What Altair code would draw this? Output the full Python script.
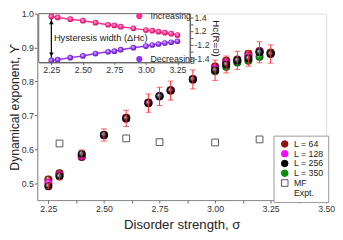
import altair as alt
import pandas as pd

# ---------------- data ----------------
sigma = [2.25, 2.30, 2.40, 2.50, 2.60, 2.70, 2.75, 2.80, 2.90, 3.00, 3.05, 3.10, 3.15, 3.20, 3.25]
ups_L64 = [0.511, 0.529, 0.577, 0.642, 0.693, 0.738, 0.757, 0.774, 0.807, 0.844, 0.861, 0.865, 0.882, 0.890, 0.885]
ups_L128 = [0.500, 0.524, 0.581, 0.641, 0.691, 0.737, 0.756, 0.773, 0.806, 0.838, 0.855, 0.860, 0.875, 0.887, 0.883]
ups_L256 = [0.491, 0.520, 0.586, 0.642, 0.691, 0.736, 0.756, 0.773, 0.806, 0.833, 0.850, 0.862, 0.868, 0.886, 0.881]
err_L256 = [0.008, 0.010, 0.012, 0.018, 0.024, 0.027, 0.027, 0.028, 0.028, 0.030, 0.025, 0.027, 0.023, 0.031, 0.027]
sigma_L350 = [3.00, 3.05, 3.10, 3.15, 3.20, 3.25]
ups_L350 = [0.830, 0.843, 0.856, 0.861, 0.873, 0.884]
mf_sigma = [2.30, 2.60, 2.75, 3.00, 3.20]
mf_ups = [0.617, 0.632, 0.621, 0.620, 0.629]

inc_hc = [1.410, 1.396, 1.371, 1.349, 1.320, 1.291, 1.281, 1.263, 1.239, 1.214, 1.206, 1.191, 1.177, 1.163, 1.143]
dec_hc = [-1.421, -1.410, -1.381, -1.356, -1.322, -1.297, -1.288, -1.267, -1.238, -1.215, -1.200, -1.185, -1.171, -1.160, -1.146]

legend_labels = ["L = 64", "L = 128", "L = 256", "L = 350", "MF", "Expt."]
inset_labels = ["Increasing", "Decreasing"]
annot_text = ["Hysteresis width (ΔHᴄ)"]
annot_x = [2.27]
annot_y = [0.0]

BREAK = 1.1  # broken inset axis offset
W, H = 296, 191
X_MAIN = [2.2, 3.5]
Y_MAIN = [0.45, 1.0]
X_INSET = [2.15, 3.35]
Y_INSET = [-0.35, 0.35]
INSET_XR = [1.5, 156.5]
INSET_YR = [50, 0]

FONT = "Liberation Sans"

# ---------------- helpers ----------------
def ball(light, mid, dark):
    return alt.RadialGradient(
        gradient="radial", x1=0.38, y1=0.33, r1=0.0, x2=0.5, y2=0.5, r2=0.55,
        stops=[alt.GradientStop(offset=0.0, color="#ffffff"),
               alt.GradientStop(offset=0.2, color=light),
               alt.GradientStop(offset=0.6, color=mid),
               alt.GradientStop(offset=1.0, color=dark)])

main_xaxis = alt.Axis(
    title="Disorder strength, σ", orient="bottom",
    values=[2.25 + 0.125 * i for i in range(11)],
    labelExpr="abs(datum.value*4 - round(datum.value*4)) < 0.01 ? format(datum.value, '.2f') : ''",
    labelFontSize=9, labelColor="#333", tickColor="#666", tickSize=3, domainColor="#888",
    labelPadding=2, titleFontSize=13.5, titleFontWeight="normal", titleColor="#222", titlePadding=4,
    labelFlush=False, grid=False)
main_yaxis = alt.Axis(
    title="Dynamical exponent, ϒ", orient="left",
    values=[0.5, 0.6, 0.7, 0.8, 0.9, 1.0], format=".1f",
    labelFontSize=9, labelColor="#333", tickColor="#666", tickSize=3, domainColor="#888",
    labelPadding=1, titleFontSize=12.5, titleFontWeight="normal", titleColor="#222", titlePadding=0,
    labelFlush=False, grid=False)

def mx(field):
    return alt.X(field, type="quantitative", scale=alt.Scale(domain=X_MAIN, nice=False, zero=False), axis=main_xaxis)

def my(field):
    return alt.Y(field, type="quantitative", scale=alt.Scale(domain=Y_MAIN, nice=False, zero=False), axis=main_yaxis)

inset_xaxis = alt.Axis(
    title=None, orient="bottom", offset=-(H - INSET_YR[0]),
    values=[2.25, 2.5, 2.75, 3.0, 3.25], format=".2f",
    labelFontSize=9, labelColor="#333", tickColor="#555", tickSize=2, domainColor="#666",
    labelPadding=1, labelFlush=False, grid=False, zindex=2)
inset_yaxis = alt.Axis(
    title="Hᴄ(R=0)", orient="right", offset=-(W - INSET_XR[1]),
    values=[-0.3, -0.2, -0.1, 0.0, 0.1, 0.2, 0.3],
    labelExpr=("abs(datum.value) < 0.05 || abs(abs(datum.value) - 0.2) < 0.05 ? '' : "
               "replace(format(datum.value > 0 ? datum.value + %s : datum.value - %s, '.1f'), '\u2212', '-')" % (BREAK, BREAK)),
    labelFontSize=9, labelColor="#333", tickColor="#555", tickSize=3, domainColor="#666",
    labelPadding=1, titleFontSize=10, titleFontWeight="normal", titleColor="#222",
    titleAngle=90, titlePadding=2, labelFlush=False, grid=False, zindex=2)

def ix(field):
    return alt.X(field, type="quantitative",
                 scale=alt.Scale(domain=X_INSET, range=INSET_XR, nice=False, zero=False), axis=inset_xaxis)

def iy(field):
    return alt.Y(field, type="quantitative",
                 scale=alt.Scale(domain=Y_INSET, range=INSET_YR, nice=False, zero=False), axis=inset_yaxis)

# ---------------- main data frames ----------------
df64 = pd.DataFrame({"s": sigma, "u": ups_L64})
df128 = pd.DataFrame({"s": sigma, "u": ups_L128})
df256 = pd.DataFrame({"s": sigma, "u": ups_L256})
df350 = pd.DataFrame({"s": sigma_L350, "u": ups_L350})
dferr = pd.DataFrame({"s": sigma,
                      "u": [u - e for u, e in zip(ups_L256, err_L256)],
                      "hi": [u + e for u, e in zip(ups_L256, err_L256)]})
dferr_hi = pd.DataFrame({"s": sigma, "u": [u + e for u, e in zip(ups_L256, err_L256)]})
dfmf = pd.DataFrame({"s": mf_sigma, "u": mf_ups})

BALL = 68
l64 = alt.Chart(df64).mark_circle(size=BALL, opacity=1, fill=ball("#e07070", "#8b1414", "#4a0000")).encode(x=mx("s"), y=my("u"))
l128 = alt.Chart(df128).mark_circle(size=BALL, opacity=1, fill=ball("#ff80ff", "#ff00ff", "#b000b0")).encode(x=mx("s"), y=my("u"))
l350 = alt.Chart(df350).mark_circle(size=BALL, opacity=1, fill=ball("#60d060", "#0a8a0a", "#024a02")).encode(x=mx("s"), y=my("u"))
l256 = alt.Chart(df256).mark_circle(size=BALL, opacity=1, fill=ball("#909090", "#111111", "#000000")).encode(x=mx("s"), y=my("u"))
err_rule = alt.Chart(dferr).mark_rule(color="#ff2a2a", strokeWidth=1).encode(x=mx("s"), y=my("u"), y2="hi")
err_lo = alt.Chart(dferr).mark_tick(color="#ff2a2a", orient="horizontal", size=6, thickness=1).encode(x=mx("s"), y=my("u"))
err_hi = alt.Chart(dferr_hi).mark_tick(color="#ff2a2a", orient="horizontal", size=6, thickness=1).encode(x=mx("s"), y=my("u"))
mf = alt.Chart(dfmf).mark_point(shape="square", filled=False, size=48, color="#555", strokeWidth=1, opacity=1).encode(x=mx("s"), y=my("u"))

leg_df = pd.DataFrame({"lab": legend_labels})
main_legend = alt.Legend(title=None, orient="none", legendX=242, legendY=125,
                         fillColor="white", strokeColor="#999", padding=4,
                         labelFontSize=9, labelColor="#222", symbolSize=45, rowPadding=-2,
                         symbolOffset=3, labelOffset=5, symbolStrokeWidth=1, labelLimit=60)
legend_layer = alt.Chart(leg_df).transform_filter("false").mark_point(filled=True, opacity=1, strokeWidth=1).encode(
    x=mx("s"), y=my("u"),
    fill=alt.Fill("lab:N", scale=alt.Scale(domain=legend_labels,
                  range=["#8b1414", "#ff00ff", "#000000", "#0a8a0a", "#ffffff", "transparent"]),
                  legend=main_legend),
    stroke=alt.Stroke("lab:N", scale=alt.Scale(domain=legend_labels,
                  range=["#8b1414", "#ff00ff", "#000000", "#0a8a0a", "#555555", "transparent"]),
                  legend=main_legend),
    shape=alt.Shape("lab:N", scale=alt.Scale(domain=legend_labels,
                  range=["circle", "circle", "circle", "circle", "square", "circle"]),
                  legend=main_legend),
)

main = alt.layer(l64, l128, l350, l256, mf, err_rule, err_lo, err_hi, legend_layer)

# ---------------- inset ----------------
inc_y = [v - BREAK for v in inc_hc]
dec_y = [v + BREAK for v in dec_hc]
dfin = pd.DataFrame({"s": sigma, "y": inc_y})
dfde = pd.DataFrame({"s": sigma, "y": dec_y})
frame_df = pd.DataFrame({"s": [X_INSET[0]], "s2": [X_INSET[1]], "y": [Y_INSET[0]], "y2": [Y_INSET[1]]})
arrow_df = pd.DataFrame({"s": [sigma[0]], "y": [inc_y[0]], "y2": [dec_y[0]]})
arrow_top = pd.DataFrame({"s": [sigma[0]], "y": [inc_y[0]]})
arrow_bot = pd.DataFrame({"s": [sigma[0]], "y": [dec_y[0]]})
annot_df = pd.DataFrame({"s": annot_x, "y": annot_y, "t": annot_text})

PINK = "#ff2d8c"
PURPLE = "#9030f0"
frame = alt.Chart(frame_df).mark_rect(fill="white", stroke="#666", strokeWidth=1).encode(
    x=ix("s"), x2="s2", y=iy("y"), y2="y2")
line_in = alt.Chart(dfin).mark_line(color=PINK, strokeWidth=1.5).encode(x=ix("s"), y=iy("y"))
line_de = alt.Chart(dfde).mark_line(color=PURPLE, strokeWidth=1.5).encode(x=ix("s"), y=iy("y"))
arrow = alt.Chart(arrow_df).mark_rule(color="black", strokeWidth=1.2).encode(x=ix("s"), y=iy("y"), y2="y2")
head_t = alt.Chart(arrow_top).mark_point(shape="triangle-up", filled=True, size=22, color="black", opacity=1, yOffset=6).encode(x=ix("s"), y=iy("y"))
head_b = alt.Chart(arrow_bot).mark_point(shape="triangle-down", filled=True, size=22, color="black", opacity=1, yOffset=-6).encode(x=ix("s"), y=iy("y"))
pts_in = alt.Chart(dfin).mark_circle(size=34, opacity=1, fill=ball("#ff9ccc", PINK, "#c0005a")).encode(x=ix("s"), y=iy("y"))
pts_de = alt.Chart(dfde).mark_circle(size=34, opacity=1, fill=ball("#c69cff", PURPLE, "#5a0fb0")).encode(x=ix("s"), y=iy("y"))
annot = alt.Chart(annot_df).mark_text(align="left", baseline="middle", fontSize=9.5, color="#222", font=FONT).encode(
    x=ix("s"), y=iy("y"), text="t:N")

inset_leg_df = pd.DataFrame({"lab": inset_labels})
inset_legend_layer = alt.Chart(inset_leg_df).transform_filter("false").mark_circle(opacity=1).encode(
    x=ix("s"), y=iy("y"),
    color=alt.Color("lab:N", scale=alt.Scale(domain=inset_labels, range=[PINK, PURPLE]),
                    legend=alt.Legend(title=None, orient="none", legendX=100, legendY=-2,
                                      padding=0, labelFontSize=9, labelColor="#222",
                                      symbolSize=40, rowPadding=34, labelOffset=7)))

inset = alt.layer(frame, line_in, line_de, arrow, head_t, head_b, pts_in, pts_de, annot, inset_legend_layer)

chart = alt.layer(main, inset).resolve_scale(
    x="independent", y="independent"
).resolve_axis(
    x="independent", y="independent"
).properties(
    width=W, height=H, autosize=alt.AutoSizeParams(type="none"),
    padding={"left": 30, "top": 3, "right": 9, "bottom": 34}
).configure_view(
    stroke="#888", strokeWidth=1
).configure(
    font=FONT
)

chart.save("out.html", embed_options={"renderer": "svg", "actions": False})
